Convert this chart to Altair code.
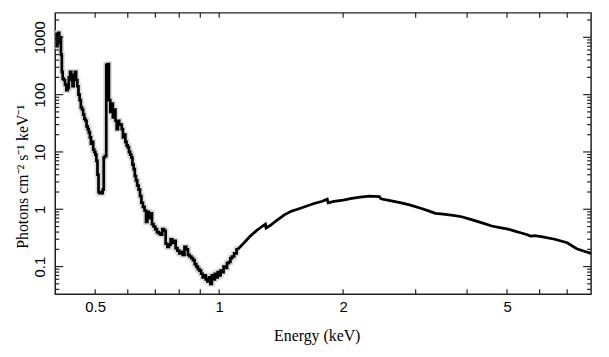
import altair as alt
import pandas as pd

# low-energy binned spectrum (keV, photons cm^-2 s^-1 keV^-1)
E_lo = [0.400, 0.402, 0.404, 0.406, 0.408, 0.410, 0.412, 0.414, 0.416, 0.418,
        0.421, 0.424, 0.427, 0.430, 0.433, 0.436, 0.439, 0.442, 0.445, 0.448,
        0.451, 0.454, 0.457, 0.460, 0.463, 0.466, 0.469, 0.472, 0.475, 0.478,
        0.481, 0.484, 0.487, 0.490, 0.493, 0.496, 0.499, 0.502, 0.505, 0.508,
        0.511, 0.514, 0.517, 0.520, 0.523, 0.526, 0.530, 0.534, 0.538, 0.542,
        0.546, 0.550, 0.554, 0.558, 0.562, 0.566, 0.570, 0.574, 0.578, 0.582,
        0.586, 0.590, 0.594, 0.598, 0.602, 0.606, 0.610, 0.614, 0.618, 0.622,
        0.626, 0.630, 0.635, 0.640, 0.645, 0.650, 0.656, 0.662, 0.667, 0.672,
        0.678, 0.684, 0.690, 0.696, 0.703, 0.710, 0.717, 0.724, 0.731, 0.738,
        0.745, 0.752, 0.759, 0.766, 0.773, 0.780, 0.788, 0.796, 0.804, 0.812,
        0.820, 0.828, 0.836, 0.844, 0.852, 0.860, 0.868, 0.876, 0.884, 0.892,
        0.900, 0.908, 0.916, 0.924, 0.932, 0.940, 0.948, 0.956, 0.964, 0.972,
        0.980, 0.988, 0.996, 1.004, 1.012, 1.020, 1.030, 1.040, 1.050, 1.060,
        1.070, 1.080, 1.095, 1.110]
F_lo = [900, 1150, 700, 1000, 1200, 800, 1000, 500, 250, 190,
        180, 150, 120, 130, 200, 250, 180, 140, 220, 250,
        180, 140, 100, 80, 60, 55, 45, 38, 35, 28,
        25, 22, 18, 14, 15, 11, 10, 9, 7, 4,
        2.0, 1.9, 2.0, 1.9, 2.2, 8, 8.5, 330, 340, 80,
        50, 70, 40, 55, 35, 25, 35, 30, 30, 25,
        18, 20, 15, 13, 12, 10, 9, 8, 6, 5,
        3.8, 3.2, 2.6, 2.2, 1.7, 1.3, 1.1, 0.95, 0.6, 0.9,
        0.7, 0.85, 0.55, 0.5, 0.45, 0.40, 0.38, 0.36, 0.45, 0.42,
        0.25, 0.22, 0.24, 0.30, 0.26, 0.28, 0.21, 0.19, 0.17, 0.18,
        0.16, 0.22, 0.20, 0.16, 0.15, 0.14, 0.13, 0.11, 0.10, 0.09,
        0.085, 0.075, 0.065, 0.07, 0.06, 0.055, 0.065, 0.05, 0.07, 0.06,
        0.075, 0.065, 0.08, 0.07, 0.085, 0.08, 0.10, 0.095, 0.115, 0.12,
        0.14, 0.15, 0.17, 0.20]

# high-energy part of the spectrum
E_hi = [1.11, 1.15, 1.19, 1.23, 1.27, 1.295, 1.30, 1.33, 1.38, 1.44,
        1.50, 1.55, 1.62, 1.70, 1.78, 1.83, 1.84, 1.90, 2.00, 2.10,
        2.20, 2.32, 2.45, 2.47, 2.60, 2.75, 2.90, 3.10, 3.25, 3.35,
        3.50, 3.70, 3.88, 4.10, 4.35, 4.59, 4.80, 5.03, 5.25, 5.42,
        5.60, 5.70, 5.84, 6.10, 6.53, 7.00, 7.38, 7.70, 8.00]
F_hi = [0.20, 0.26, 0.34, 0.42, 0.50, 0.55, 0.47, 0.52, 0.64, 0.80,
        0.93, 1.00, 1.12, 1.26, 1.38, 1.50, 1.30, 1.37, 1.45, 1.55,
        1.63, 1.70, 1.66, 1.52, 1.42, 1.30, 1.19, 1.03, 0.92, 0.85,
        0.82, 0.78, 0.74, 0.66, 0.58, 0.51, 0.48, 0.45, 0.41, 0.385,
        0.36, 0.34, 0.345, 0.33, 0.30, 0.26, 0.205, 0.185, 0.17]

x_labels = [0.5, 1, 2, 5]
x_ticks = [0.5, 0.6, 0.7, 0.8, 0.9, 1, 2, 3, 4, 5, 6, 7]
y_labels = [0.1, 1, 10, 100, 1000]
y_minor = [0.04, 0.05, 0.06, 0.07, 0.08, 0.09,
           0.2, 0.3, 0.4, 0.5, 0.6, 0.7, 0.8, 0.9,
           2, 3, 4, 5, 6, 7, 8, 9,
           20, 30, 40, 50, 60, 70, 80, 90,
           200, 300, 400, 500, 600, 700, 800, 900, 2000]

W, H = 541, 284
xs = alt.Scale(type="log", domain=[0.4, 8])
ys = alt.Scale(type="log", domain=[0.033, 2670])

x_axis = alt.Axis(values=x_labels, format="~g", ticks=False, domain=False, grid=False,
                  labelFont="Liberation Sans", labelFontSize=15, labelColor="black",
                  labelPadding=6, labelBaseline="top",
                  title="Energy (keV)", titleFont="Liberation Serif", titleFontSize=16,
                  titleFontWeight="normal", titleColor="black",
                  titleX=264, titleY=47, titleAlign="center", titleBaseline="alphabetic")
y_axis = alt.Axis(values=y_labels, format="~g", ticks=False, domain=False, grid=False,
                  labelFont="Liberation Sans", labelFontSize=15, labelColor="black",
                  labelAngle=270, labelAlign="center", labelBaseline="bottom",
                  labelPadding=8,
                  title="Photons cm⁻² s⁻¹ keV⁻¹", titleFont="Liberation Serif",
                  titleFontSize=16, titleFontWeight="normal", titleColor="black",
                  titleAngle=270, titleX=-28, titleY=165, titleAlign="center",
                  titleBaseline="alphabetic")

lo = pd.DataFrame({"E": E_lo, "F": F_lo})
hi = pd.DataFrame({"E": E_hi, "F": F_hi})
xt = pd.DataFrame({"E": x_ticks})
ymaj = pd.DataFrame({"F": y_labels})
ymin = pd.DataFrame({"F": y_minor})

X = alt.X("E:Q", scale=xs, axis=x_axis)
Y = alt.Y("F:Q", scale=ys, axis=y_axis)

halo = alt.Chart(lo).mark_line(interpolate="step", color="#dadada", strokeWidth=6, clip=True).encode(x=X, y=Y)
lo_line = alt.Chart(lo).mark_line(interpolate="step", color="black", strokeWidth=2.7, clip=True).encode(x=X, y=Y)
hi_line = alt.Chart(hi).mark_line(color="black", strokeWidth=2.8, clip=True).encode(x=X, y=Y)

tick_col = "#222222"
xb = alt.Chart(xt).mark_rule(color=tick_col, strokeWidth=1.2).encode(x=X, y=alt.value(H), y2=alt.value(H - 5))
xtop = alt.Chart(xt).mark_rule(color=tick_col, strokeWidth=1.2).encode(x=X, y=alt.value(0), y2=alt.value(5))
yl = alt.Chart(ymaj).mark_rule(color=tick_col, strokeWidth=1.2).encode(y=Y, x=alt.value(0), x2=alt.value(8))
yr = alt.Chart(ymaj).mark_rule(color=tick_col, strokeWidth=1.2).encode(y=Y, x=alt.value(W), x2=alt.value(W - 8))
yml = alt.Chart(ymin).mark_rule(color=tick_col, strokeWidth=1.2).encode(y=Y, x=alt.value(0), x2=alt.value(4))
ymr = alt.Chart(ymin).mark_rule(color=tick_col, strokeWidth=1.2).encode(y=Y, x=alt.value(W), x2=alt.value(W - 4))

chart = alt.layer(halo, lo_line, hi_line, xb, xtop, yl, yr, yml, ymr).properties(
    width=W, height=H,
    autosize=alt.AutoSizeParams(type="none"),
    padding={"left": 47.7, "top": 3.3, "right": 10, "bottom": 50},
    background="white",
).configure_view(stroke="#222222", strokeWidth=1.5)

chart.save("out.html", embed_options={"renderer": "svg", "actions": False})
